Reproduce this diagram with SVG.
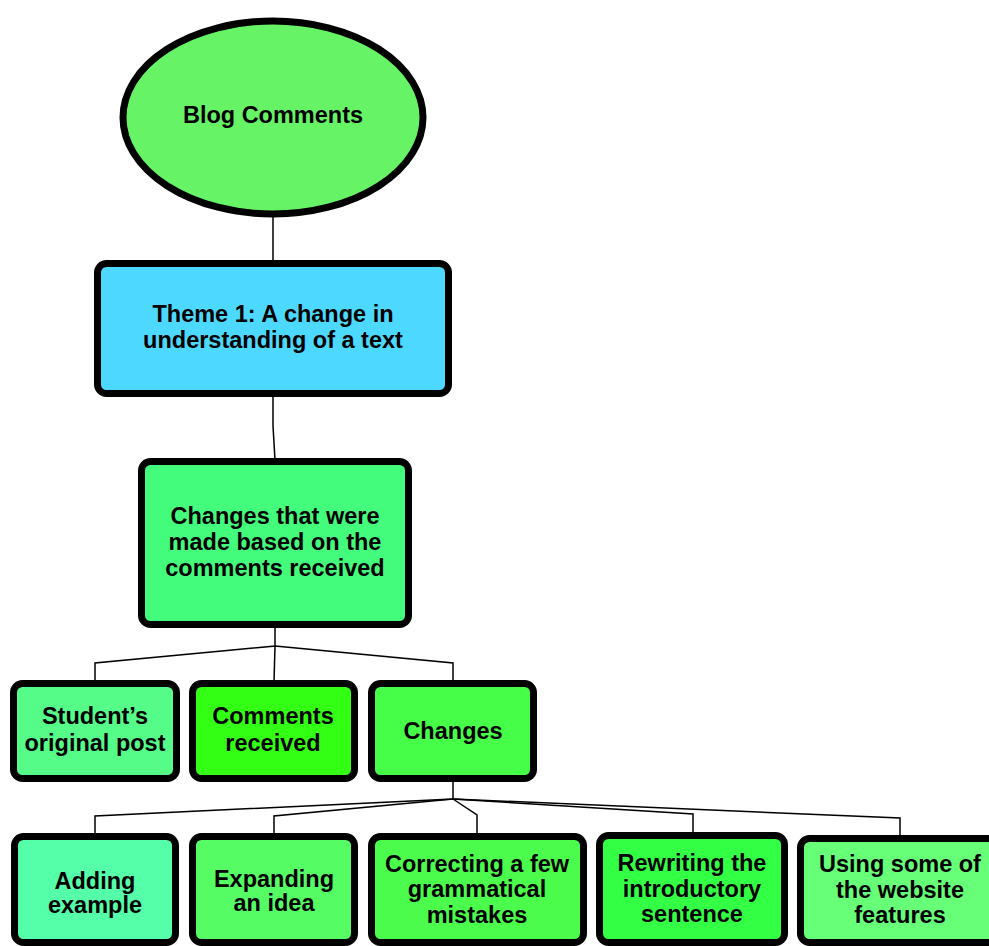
<svg xmlns="http://www.w3.org/2000/svg" width="989" height="946" viewBox="0 0 989 946">
  <style>
    .node { stroke: #000; stroke-width: 7; }
    .lbl { font-family: "Liberation Sans", Arial, sans-serif; font-weight: bold; font-size: 23.5px; fill: #000; text-anchor: middle; }
    .link { fill: none; stroke: #000; stroke-width: 1.5; stroke-linejoin: miter; }
  </style>
  <rect width="989" height="946" fill="#fff"/>

  <g id="connectors">
    <path class="link" d="M273,214 L273,262"/>
    <path class="link" d="M273,396 L273,426 L275,460"/>
    <path class="link" d="M275,626 L275,646 L95,663 L95,682"/>
    <path class="link" d="M275,646 L453,663 L453,682"/>
    <path class="link" d="M275,646 L274,682"/>
    <path class="link" d="M453,780 L453,799 L95,816 L95,835"/>
    <path class="link" d="M453,799 L274,816 L274,835"/>
    <path class="link" d="M453,799 L477,815 L477,835"/>
    <path class="link" d="M453,799 L693,814 L693,834"/>
    <path class="link" d="M453,799 L900,818 L900,837"/>
  </g>

  <g id="blog-comments">
    <ellipse class="node" cx="273" cy="117.5" rx="150" ry="96.5" fill="#66F466"/>
    <text class="lbl" x="273" y="123">Blog Comments</text>
  </g>

  <g id="theme-1">
    <rect class="node" x="97.5" y="263.5" width="351" height="130" rx="9" fill="#4DD9FF"/>
    <text class="lbl" x="273" y="322">Theme 1: A change in</text>
    <text class="lbl" x="273" y="348">understanding of a text</text>
  </g>

  <g id="changes-made">
    <rect class="node" x="141.5" y="461.5" width="267" height="163" rx="9" fill="#44FC7C"/>
    <text class="lbl" x="275" y="524">Changes that were</text>
    <text class="lbl" x="275" y="550">made based on the</text>
    <text class="lbl" x="275" y="576">comments received</text>
  </g>

  <g id="students-original-post">
    <rect class="node" x="13.5" y="683.5" width="163" height="95" rx="9" fill="#55FC88"/>
    <text class="lbl" x="95" y="724">Student’s</text>
    <text class="lbl" x="95" y="751">original post</text>
  </g>

  <g id="comments-received">
    <rect class="node" x="192.5" y="683.5" width="162" height="95" rx="9" fill="#33FF14"/>
    <text class="lbl" x="273" y="724">Comments</text>
    <text class="lbl" x="273" y="751">received</text>
  </g>

  <g id="changes">
    <rect class="node" x="371.5" y="683.5" width="162" height="95" rx="9" fill="#46FD48"/>
    <text class="lbl" x="453" y="739">Changes</text>
  </g>

  <g id="adding-example">
    <rect class="node" x="14.5" y="836.5" width="161" height="106" rx="9" fill="#55FEA8"/>
    <text class="lbl" x="95" y="889">Adding</text>
    <text class="lbl" x="95" y="913">example</text>
  </g>

  <g id="expanding-an-idea">
    <rect class="node" x="192.5" y="836.5" width="162" height="106" rx="9" fill="#55FC63"/>
    <text class="lbl" x="274" y="887">Expanding</text>
    <text class="lbl" x="274" y="911">an idea</text>
  </g>

  <g id="correcting-mistakes">
    <rect class="node" x="371.5" y="836.5" width="212" height="106" rx="9" fill="#4CFC4C"/>
    <text class="lbl" x="477" y="872">Correcting a few</text>
    <text class="lbl" x="477" y="897">grammatical</text>
    <text class="lbl" x="477" y="923">mistakes</text>
  </g>

  <g id="rewriting-intro">
    <rect class="node" x="599.5" y="835.5" width="185" height="107" rx="9" fill="#33FF44"/>
    <text class="lbl" x="692" y="871">Rewriting the</text>
    <text class="lbl" x="692" y="897">introductory</text>
    <text class="lbl" x="692" y="922">sentence</text>
  </g>

  <g id="using-website-features">
    <rect class="node" x="800.5" y="838.5" width="202" height="104" rx="9" fill="#66FF77"/>
    <text class="lbl" x="900" y="872">Using some of</text>
    <text class="lbl" x="900" y="898">the website</text>
    <text class="lbl" x="900" y="923">features</text>
  </g>
</svg>
